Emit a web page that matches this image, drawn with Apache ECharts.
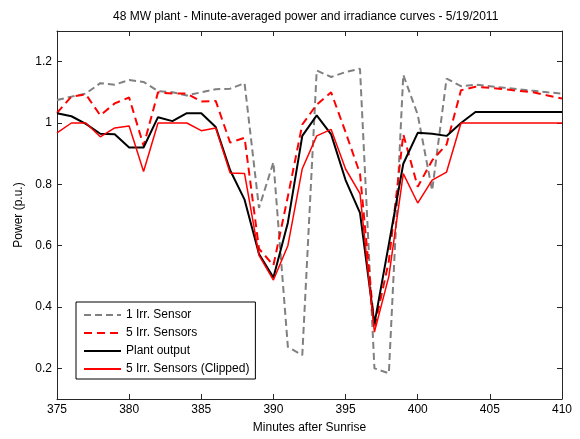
<!DOCTYPE html>
<html>
<head>
<meta charset="utf-8">
<script src="https://cdn.jsdelivr.net/npm/echarts@6/dist/echarts.min.js"></script>
<style>html,body{margin:0;padding:0;background:#fff;}#c{width:580px;height:439px;}</style>
</head>
<body>
<div id="c"></div>
<script>
const minutes = [375,376,377,378,379,380,381,382,383,384,385,386,387,388,389,390,391,392,393,394,395,396,397,398,399,400,401,402,403,404,405,406,407,408,409,410];
const oneSensor = [1.075,1.086,1.096,1.13,1.125,1.14,1.134,1.104,1.10,1.09,1.10,1.11,1.112,1.13,0.723,0.872,0.27,0.243,1.171,1.15,1.166,1.177,0.20,0.184,1.157,1.027,0.78,1.145,1.12,1.125,1.12,1.115,1.11,1.105,1.10,1.096];
const fiveSensors = [1.033,1.086,1.093,1.025,1.064,1.083,0.926,1.10,1.096,1.096,1.07,1.072,0.936,0.952,0.59,0.536,0.76,0.995,1.06,1.10,0.97,0.835,0.333,0.55,0.963,0.792,0.878,0.93,1.107,1.118,1.115,1.11,1.105,1.10,1.09,1.08];
const plantOutput = [1.032,1.022,0.997,0.965,0.963,0.92,0.92,1.019,1.006,1.032,1.032,0.987,0.846,0.75,0.573,0.496,0.675,0.958,1.025,0.963,0.814,0.707,0.345,0.605,0.867,0.968,0.965,0.958,1.0,1.036,1.036,1.036,1.036,1.036,1.036,1.036];
const fiveClipped = [0.968,1.0,1.0,0.955,0.984,0.99,0.842,1.0,1.0,1.0,0.975,0.984,0.837,0.835,0.568,0.488,0.60,0.851,0.958,0.979,0.85,0.77,0.318,0.50,0.835,0.739,0.814,0.84,1.0,1.0,1.0,1.0,1.0,1.0,1.0,1.0];
const yTicks = [0.2,0.4,0.6,0.8,1,1.2];
const seriesNames = ['1 Irr. Sensor','5 Irr. Sensors','Plant output','5 Irr. Sensors (Clipped)'];
const titleText = '48 MW plant - Minute-averaged power and irradiance curves - 5/19/2011';
const xName = 'Minutes after Sunrise';
const yName = 'Power (p.u.)';

const FONT = '"Liberation Sans", Arial, sans-serif';
const pair = arr => minutes.map((m,i)=>[m,arr[i]]);
const chart = echarts.init(document.getElementById('c'), null, {renderer:'canvas'});
const axisLineStyle = {color:'#262626', width:1};
chart.setOption({
  animation:false,
  backgroundColor:'#fff',
  title:{text:titleText, left:108, top:6, textStyle:{fontSize:12, fontWeight:'normal', color:'#000', fontFamily:FONT}},
  grid:{left:57, right:18, top:31, bottom:35},
  legend:{
    orient:'vertical', left:76, top:302, padding:[7,6,4,7], itemGap:6,
    itemWidth:37, itemHeight:14, borderColor:'#000', borderWidth:1, backgroundColor:'#fff',
    itemStyle:{opacity:0},
    textStyle:{fontSize:12, color:'#000', fontFamily:FONT},
    data:seriesNames
  },
  xAxis:[
    {type:'value', min:375, max:410, interval:5, position:'bottom',
     name:xName, nameLocation:'middle', nameGap:23, nameTextStyle:{fontSize:12,color:'#000',fontFamily:FONT},
     axisLine:{show:true,lineStyle:axisLineStyle}, axisTick:{show:true,inside:true,length:5,lineStyle:axisLineStyle},
     axisLabel:{fontSize:12,color:'#000',fontFamily:FONT,margin:5}, splitLine:{show:false}},
    {type:'value', min:375, max:410, interval:5, position:'top',
     axisLine:{show:true,lineStyle:axisLineStyle}, axisTick:{show:true,inside:true,length:5,lineStyle:axisLineStyle},
     axisLabel:{show:false}, splitLine:{show:false}}
  ],
  yAxis:[
    {type:'value', min:0.1, max:1.3, position:'left',
     name:yName, nameLocation:'middle', nameGap:30, nameTextStyle:{fontSize:12,color:'#000',fontFamily:FONT},
     axisLine:{show:true,lineStyle:axisLineStyle},
     axisTick:{show:true,inside:true,length:5,lineStyle:axisLineStyle,customValues:yTicks},
     axisLabel:{fontSize:12,color:'#000',fontFamily:FONT,margin:5,customValues:yTicks}, splitLine:{show:false}},
    {type:'value', min:0.1, max:1.3, position:'right',
     axisLine:{show:true,lineStyle:axisLineStyle},
     axisTick:{show:true,inside:true,length:5,lineStyle:axisLineStyle,customValues:yTicks},
     axisLabel:{show:false}, splitLine:{show:false}}
  ],
  series:[
    {name:seriesNames[0], type:'line', data:pair(oneSensor), symbol:'none', lineStyle:{color:'#808080', width:2, type:[7,4]}, itemStyle:{color:'#808080'}},
    {name:seriesNames[1], type:'line', data:pair(fiveSensors), symbol:'none', lineStyle:{color:'#ff0000', width:2, type:[8,5]}, itemStyle:{color:'#ff0000'}},
    {name:seriesNames[2], type:'line', data:pair(plantOutput), symbol:'none', lineStyle:{color:'#000000', width:2}, itemStyle:{color:'#000000'}},
    {name:seriesNames[3], type:'line', data:pair(fiveClipped), symbol:'none', lineStyle:{color:'#ff0000', width:1.5}, itemStyle:{color:'#ff0000'}}
  ]
});
</script>
</body>
</html>
